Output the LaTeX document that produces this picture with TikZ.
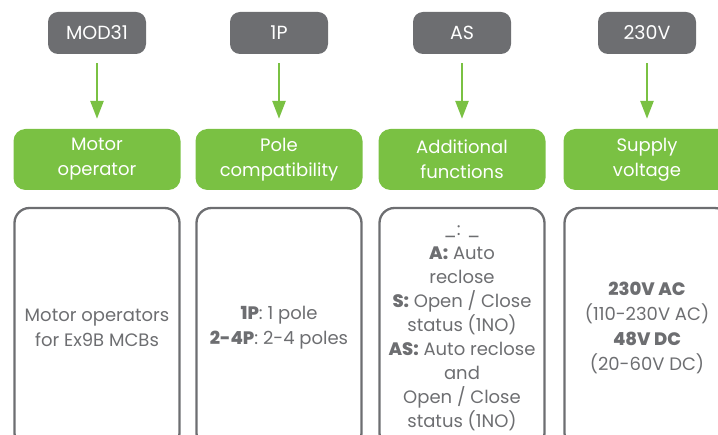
\documentclass[tikz,border=0pt]{standalone}
\usepackage{fontspec}
\setmainfont{Poppins}[BoldFont={Poppins ExtraBold}]
\usetikzlibrary{positioning,arrows.meta}
\definecolor{tagGray}{HTML}{6D6E71}
\definecolor{catGreen}{HTML}{7AC143}
\definecolor{textGray}{HTML}{6D6E71}

\begin{document}
\begin{tikzpicture}[x=1pt,y=1pt,
      tagbox/.style={fill=tagGray,rounded corners=10pt,minimum width=98pt,minimum height=42pt,text=white,font=\fontsize{19}{20}\selectfont},
      catbox/.style={fill=catGreen,rounded corners=12pt,minimum width=167pt,minimum height=61pt,inner sep=0pt,text=white,align=center,font=\fontsize{18}{25}\selectfont},
      descbox/.style={draw=textGray,line width=2.3pt,rounded corners=15pt,minimum width=165pt,minimum height=240pt,inner sep=0pt,text=textGray,align=center,font=\fontsize{18}{25}\selectfont},
      flow/.style={-{Triangle[width=13pt,length=18pt]},draw=catGreen,line width=2.7pt,shorten <=9pt,shorten >=10pt}]
    \useasboundingbox (0,0) rectangle (718,-435);
    \clip (0,0) rectangle (718,-435);
    \node[tagbox] (mod31) at (97,-33) {MOD31};
    \node[tagbox] (onep) at (279,-33) {1P};
    \node[tagbox] (as) at (462,-33) {AS};
    \node[tagbox] (v230) at (647,-33) {230V};
    \node[catbox] (motor) at (97,-159.5) {Motor\\operator};
    \node[catbox] (pole) at (279,-159.5) {Pole\\compatibility};
    \node[catbox] (addfn) at (462,-159.5) {Additional\\functions};
    \node[catbox] (supply) at (647,-159.5) {Supply\\voltage};
    \node[descbox] (motordesc) at (97,-328) {Motor operators\\for Ex9B MCBs};
    \node[descbox] (poledesc) at (279,-328) {\textbf{1P}: 1 pole\\\textbf{2-4P}: 2-4 poles};
    \node[descbox,font=\fontsize{18}{24}\selectfont] (addfndesc) at (462,-328) {\_: \_\\\textbf{A:} Auto\\reclose\\\textbf{S:} Open / Close\\status (1NO)\\\textbf{AS:} Auto reclose\\and\\Open / Close\\status (1NO)};
    \node[descbox] (supplydesc) at (647,-328) {\textbf{230V AC}\\(110-230V AC)\\\textbf{48V DC}\\(20-60V DC)};
    \draw[flow] (mod31) -- (motor);
    \draw[flow] (onep) -- (pole);
    \draw[flow] (as) -- (addfn);
    \draw[flow] (v230) -- (supply);
  \end{tikzpicture}
\end{document}
